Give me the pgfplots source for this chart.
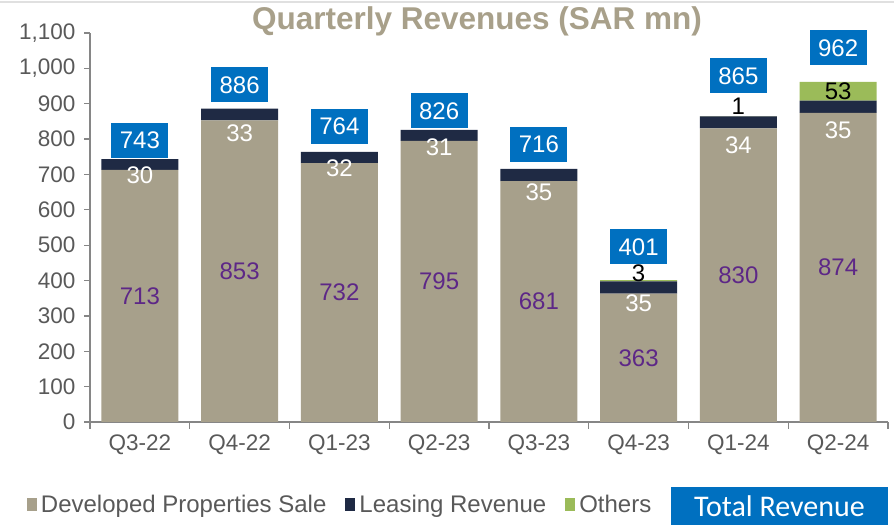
\documentclass[border=0pt]{standalone}
\usepackage{pgfplots}
\pgfplotsset{compat=1.18}
\usepackage{fontspec}
\setmainfont{Liberation Sans}
\newfontfamily\carlito{Carlito}
\definecolor{tanc}{RGB}{167,160,139}
\definecolor{navyc}{RGB}{31,42,68}
\definecolor{greenc}{RGB}{155,187,89}
\definecolor{boxblue}{RGB}{0,112,192}
\definecolor{purplec}{RGB}{93,39,135}
\definecolor{tickgray}{RGB}{89,89,89}
\definecolor{axisgray}{RGB}{134,134,134}
\definecolor{titlec}{RGB}{168,160,138}
\begin{document}
\begin{tikzpicture}[x=1pt,y=1pt]
\useasboundingbox (0,0) rectangle (894,530);
\draw[black!12, line width=2pt] (0,528) -- (894,528);
\node[anchor=base, text=titlec, font=\bfseries\fontsize{31.5}{34}\selectfont] at (477,500) {Quarterly Revenues (SAR mn)};
\begin{axis}[
  at={(90pt,108pt)}, anchor=south west,
  scale only axis, width=798pt, height=389pt,
  ybar stacked, bar width=77pt,
  xmin=-0.5, xmax=7.5, ymin=0, ymax=1100,
  axis x line=bottom, axis y line=left,
  axis line style={-, draw=axisgray, line width=1.3pt},
  tick align=outside,
  xtick={0,...,7},
  xticklabels={Q3-22,Q4-22,Q1-23,Q2-23,Q3-23,Q4-23,Q1-24,Q2-24},
  minor xtick={-0.5,0.5,...,7.5},
  major x tick style={draw=none},
  minor x tick style={draw=axisgray, line width=1.3pt},
  minor tick length=7pt,
  ytick={0,100,...,1100},
  major y tick style={draw=axisgray, line width=1.3pt},
  major tick length=6pt,
  /pgf/number format/assume math mode=true,
  /pgf/number format/1000 sep={,},
  tick label style={font=\fontsize{22.5}{25}\selectfont, text=tickgray},
  yticklabel style={xshift=-5pt},
  xticklabel style={yshift=-3pt},
  legend style={at={(-0.083,-0.213)}, anchor=west, draw=none, fill=none,
    legend columns=3, font=\fontsize{24}{27}\selectfont, text=tickgray,
    nodes={inner xsep=4pt},
    /tikz/every even column/.append style={column sep=15pt}},
  legend image code/.code={\fill[#1] (0pt,-6.5pt) rectangle (10pt,6.5pt);},
]
\addplot[fill=tanc, draw=none] coordinates {(0,713) (1,853) (2,732) (3,795) (4,681) (5,363) (6,830) (7,874)};
\addplot[fill=navyc, draw=none] coordinates {(0,30) (1,33) (2,32) (3,31) (4,35) (5,35) (6,34) (7,35)};
\addplot[fill=greenc, draw=none] coordinates {(0,0) (1,0) (2,0) (3,0) (4,0) (5,3) (6,1) (7,53)};
\legend{Developed Properties Sale, Leasing Revenue, Others}
\end{axis}
\begin{axis}[
  at={(90pt,108pt)}, anchor=south west,
  scale only axis, width=798pt, height=389pt,
  xmin=-0.5, xmax=7.5, ymin=0, ymax=1100,
  hide axis, clip=false,
  point meta=explicit symbolic,
  nodes near coords={\pgfplotspointmeta},
  every node near coord/.append style={anchor=center, font=\fontsize{24}{26}\selectfont},
]
% developed labels
\addplot[draw=none, mark=none, every node near coord/.append style={text=purplec}] coordinates {
 (0,356.5) [713] (1,426.5) [853] (2,366) [732] (3,397.5) [795] (4,340.5) [681] (5,181.5) [363] (6,415) [830] (7,437) [874]};
% leasing labels
\addplot[draw=none, mark=none, every node near coord/.append style={text=white}] coordinates {
 (0,698) [30] (1,817) [33] (2,718) [32] (3,778) [31] (4,650) [35] (5,336) [35] (6,783) [34] (7,826) [35]};
% others labels
\addplot[draw=none, mark=none, every node near coord/.append style={text=black}] coordinates {
 (5,421) [3] (6,894) [1] (7,936) [53]};
% total labels
\addplot[draw=none, mark=none, every node near coord/.append style={text=white, fill=boxblue, minimum width=57pt, minimum height=35pt, inner sep=0pt}] coordinates {
 (0,797) [743] (1,953) [886] (2,836) [764] (3,880) [826] (4,786) [716] (5,495) [401] (6,979) [865] (7,1058) [962]};
\end{axis}
\node[fill=boxblue, text=white, minimum width=217pt, minimum height=38pt, inner sep=0pt, font=\carlito\fontsize{30}{32}\selectfont] at (779.5,24) {Total Revenue};
\end{tikzpicture}
\end{document}
